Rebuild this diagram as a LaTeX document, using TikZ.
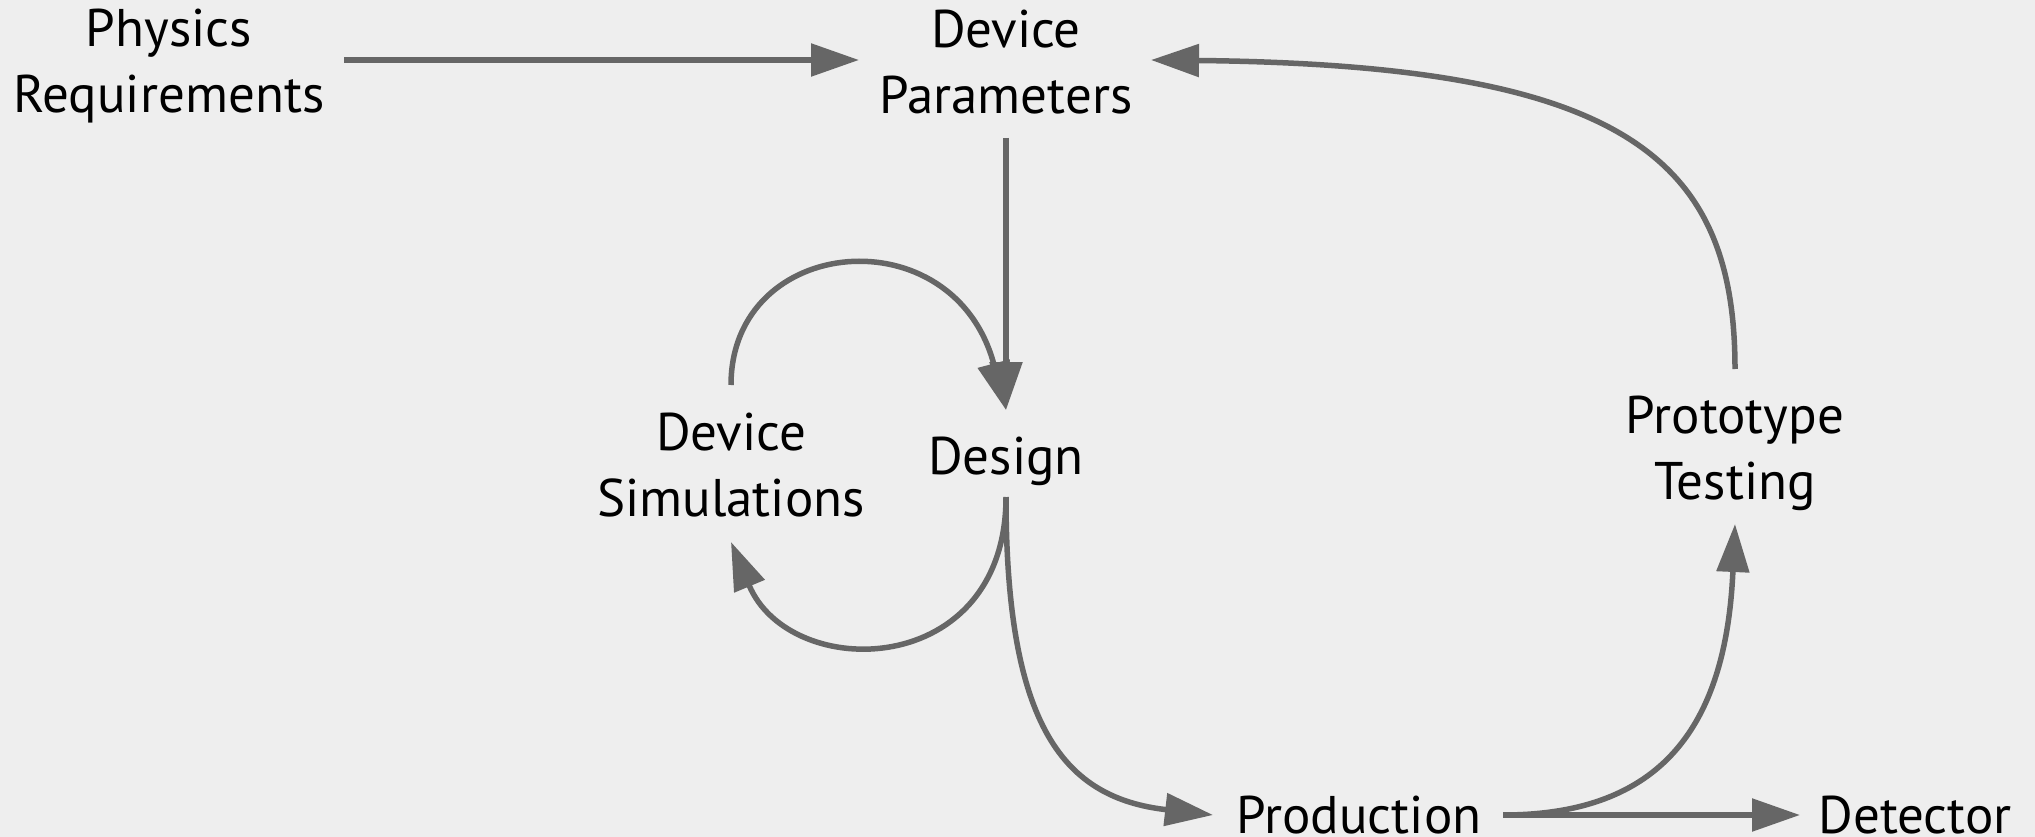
\documentclass[tikz,border=0pt]{standalone}
\usepackage{fontspec}
\setmainfont{PT Sans}
\usetikzlibrary{arrows.meta,calc}
\definecolor{bgc}{HTML}{EEEEEE}
\definecolor{edgec}{HTML}{666666}
\tikzset{
  lbl/.style={align=center, inner sep=0pt, text=black, font=\fontsize{53}{66}\selectfont},
  conn/.style={draw=edgec, line width=5.5pt, -{Triangle[length=48pt,width=32pt]}, fill=none}
}
\begin{document}
\begin{tikzpicture}[x=1pt,y=-1pt]
\fill[bgc] (0,0) rectangle (2035,837);
\useasboundingbox (0,0) rectangle (2035,837);
\node[lbl] (req) at (169,66) {Physics\\Requirements};
\node[lbl] (par) at (1006,62) {Device\\Parameters};
\node[lbl] (sim) at (731,465) {Device\\Simulations};
\node[lbl] (des) at (1006,461) {Design};
\node[lbl] (pro) at (1735,453) {Prototype\\Testing};
\node[lbl] (prd) at (1359,815) {Production};
\node[lbl] (det) at (1915,815) {Detector};
\draw[conn] ($(req)+(175,-6)$) -- ($(par)+(-147,-2)$);
\draw[conn] ($(par)+(0,76)$) -- ($(des)+(0,-51)$);
\draw[conn] ($(sim)+(0,-80)$) .. controls (731,234) and (954,214) .. ($(des)+(0,-51)$);
\draw[conn] ($(des)+(0,36)$) .. controls (1006,680) and (790,683) .. ($(sim)+(0,77)$);
\draw[conn] ($(des)+(0,36)$) .. controls (1006,727) and (1064,798) .. ($(prd)+(-146,0)$);
\draw[conn] ($(prd)+(144,0)$) .. controls (1661,815) and (1726,727) .. ($(pro)+(0,71)$);
\draw[conn] ($(prd)+(144,0)$) -- ($(det)+(-115,0)$);
\draw[conn] ($(pro)+(0,-84)$) .. controls (1735,156) and (1622,65) .. ($(par)+(145,-2)$);
\end{tikzpicture}
\end{document}
